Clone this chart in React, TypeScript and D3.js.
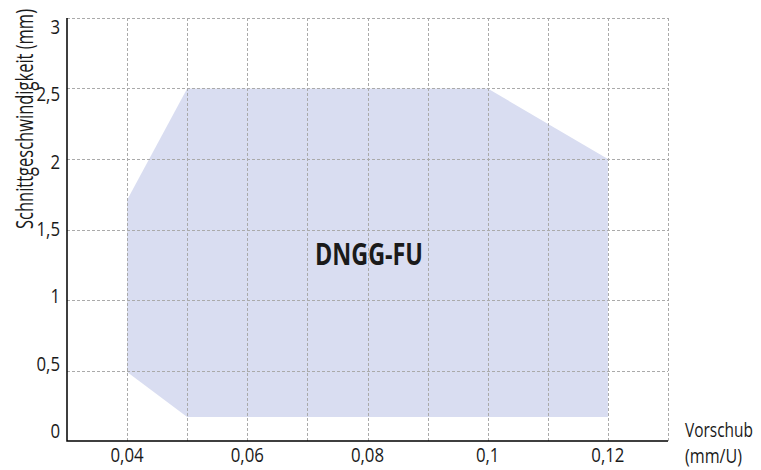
import React, { useEffect, useRef } from "react";
import * as d3 from "d3";

// Arbeitsbereich DNGG-FU: Vorschub (mm/U) gegen Schnittgeschwindigkeit (mm)
const areaFeed = [0.04, 0.05, 0.1, 0.12, 0.12, 0.05, 0.04];
const areaSpeed = [1.71, 2.5, 2.5, 2.0, 0.17, 0.17, 0.49];

const xGrid = [0.04, 0.05, 0.06, 0.07, 0.08, 0.09, 0.1, 0.11, 0.12, 0.13];
const yGrid = [0.5, 1, 1.5, 2, 2.5, 3];
const xTicks = [0.04, 0.06, 0.08, 0.1, 0.12];
const yTicks = [0, 0.5, 1, 1.5, 2, 2.5, 3];

const WIDTH = 761;
const HEIGHT = 470;
const PLOT = { left: 67, right: 668, top: 18, bottom: 441 };
const TEXT = "#1a1a1a";
const FONT = "'Open Sans', sans-serif";

const fmt = (v: number) => String(v).replace(".", ",");

// squeeze a text to a given width so it looks like the condensed original face
function fit(sel: d3.Selection<SVGTextElement, any, any, any>, width: number | null, ratio = 0.84) {
  sel.each(function () {
    const w = width ?? this.getComputedTextLength() * ratio;
    d3.select(this).attr("textLength", w).attr("lengthAdjust", "spacingAndGlyphs");
  });
}

export default function App() {
  const svgRef = useRef<SVGSVGElement | null>(null);

  useEffect(() => {
    document.body.style.margin = "0";
    const svg = d3.select(svgRef.current);
    svg.selectAll("*").remove();

    const x = d3.scaleLinear().domain([0.03, 0.13]).range([PLOT.left, PLOT.right]);
    const y = d3.scaleLinear().domain([0, 3]).range([PLOT.bottom, PLOT.top]);
    // the original labels sit on a slightly tighter spacing than the grid
    const yLab = d3.scaleLinear().domain([0, 3]).range([431, 27]);

    const pts: [number, number][] = areaFeed.map((f, i) => [x(f), y(areaSpeed[i])]);
    svg
      .append("path")
      .attr("d", d3.line()(pts) + "Z")
      .attr("fill", "#d9ddf1");

    const grid = svg.append("g").attr("stroke", "#aaa").attr("stroke-dasharray", "3,2");
    grid
      .selectAll("line.v")
      .data(xGrid)
      .join("line")
      .attr("x1", (d) => Math.round(x(d)) + 0.5)
      .attr("x2", (d) => Math.round(x(d)) + 0.5)
      .attr("y1", PLOT.top)
      .attr("y2", PLOT.bottom);
    grid
      .selectAll("line.h")
      .data(yGrid)
      .join("line")
      .attr("x1", PLOT.left)
      .attr("x2", PLOT.right)
      .attr("y1", (d) => Math.round(y(d)) + 0.5)
      .attr("y2", (d) => Math.round(y(d)) + 0.5);

    // axes
    svg
      .append("path")
      .attr("d", `M${PLOT.left},${PLOT.top}V${PLOT.bottom}H${PLOT.right}`)
      .attr("fill", "none")
      .attr("stroke", "#000")
      .attr("stroke-width", 1.5);

    const labels = svg
      .append("g")
      .attr("font-family", FONT)
      .attr("font-size", 20)
      .attr("fill", TEXT);

    const xl = labels
      .selectAll("text.x")
      .data(xTicks)
      .join("text")
      .attr("class", "x")
      .attr("x", (d) => x(d))
      .attr("y", 462)
      .attr("text-anchor", "middle")
      .text(fmt);
    fit(xl as any, null);

    const yl = labels
      .selectAll("text.y")
      .data(yTicks)
      .join("text")
      .attr("class", "y")
      .attr("x", 60)
      .attr("y", (d) => yLab(d))
      .attr("dy", "0.35em")
      .attr("text-anchor", "end")
      .text(fmt);
    fit(yl as any, null);

    const title = labels
      .append("text")
      .attr("transform", "translate(33,119) rotate(-90)")
      .attr("text-anchor", "middle")
      .attr("font-size", 23)
      .text("Schnittgeschwindigkeit (mm)");
    fit(title as any, 220);

    fit(labels.append("text").attr("x", 685).attr("y", 437).text("Vorschub") as any, 68);
    fit(labels.append("text").attr("x", 685).attr("y", 463).text("(mm/U)") as any, 57);

    const name = labels
      .append("text")
      .attr("x", 369)
      .attr("y", 265)
      .attr("text-anchor", "middle")
      .attr("font-size", 30)
      .attr("font-weight", "bold")
      .text("DNGG-FU");
    fit(name as any, 108);
  }, []);

  return <svg ref={svgRef} width={WIDTH} height={HEIGHT} style={{ display: "block" }} />;
}
